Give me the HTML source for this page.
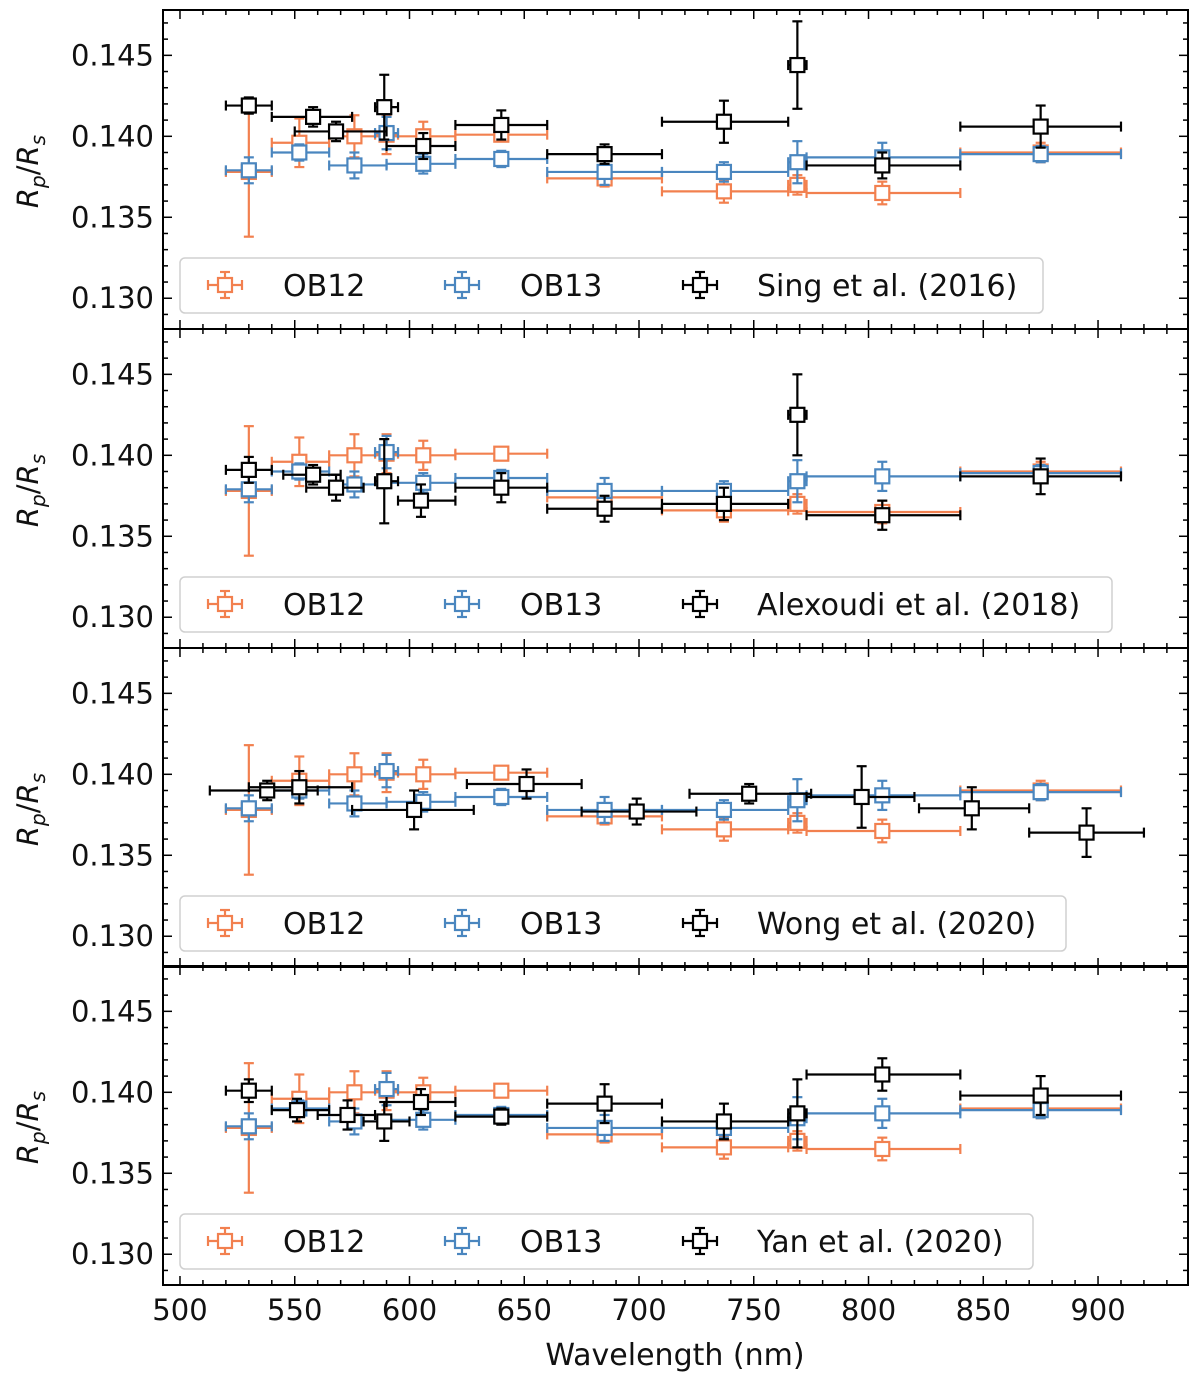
<!DOCTYPE html>
<html><head><meta charset="utf-8">
<style>
body{margin:0;background:#fff;}
svg text{font-family:"DejaVu Sans","Liberation Sans",sans-serif;fill:#111;}
</style></head>
<body>
<svg id="chart" width="1200" height="1380" xmlns="http://www.w3.org/2000/svg"></svg>
<script>
// ---- data ----
const ob12X=[530,552,576,590,606,640,685,737,769,806,875];
const ob12Lo=[520,540,565,585,590,620,660,710,765,773,840];
const ob12Hi=[540,565,590,595,620,660,710,765,773,840,910];
const ob12Y=[0.1378,0.1396,0.1400,0.1401,0.1400,0.1401,0.1374,0.1366,0.1370,0.1365,0.1390];
const ob12E=[0.0040,0.0015,0.0013,0.0012,0.0009,0.0003,0.0005,0.0007,0.0006,0.0007,0.0006];
const ob13X=[530,552,576,590,606,640,685,737,769,806,875];
const ob13Lo=[520,540,565,585,590,620,660,710,765,773,840];
const ob13Hi=[540,565,590,595,620,660,710,765,773,840,910];
const ob13Y=[0.1379,0.1390,0.1382,0.1402,0.1383,0.1386,0.1378,0.1378,0.1384,0.1387,0.1389];
const ob13E=[0.0008,0.0005,0.0008,0.0010,0.0006,0.0005,0.0008,0.0006,0.0013,0.0009,0.0005];
const singX=[530,558,568,589,606,640,685,737,769,806,875];
const singLo=[520,540,550,585,590,620,660,710,765,773,840];
const singHi=[540,575,590,595,620,660,710,765,773,840,910];
const singY=[0.1419,0.1412,0.1403,0.1418,0.1394,0.1407,0.1389,0.1409,0.1444,0.1382,0.1406];
const singE=[0.0005,0.0006,0.0006,0.0020,0.0008,0.0009,0.0006,0.0013,0.0027,0.0008,0.0013];
const alexX=[530,558,568,589,605,640,685,737,769,806,875];
const alexLo=[520,545,555,585,595,620,660,710,765,773,840];
const alexHi=[540,570,580,595,620,660,710,765,773,840,910];
const alexY=[0.1391,0.1388,0.1380,0.1384,0.1372,0.1380,0.1367,0.1370,0.1425,0.1363,0.1387];
const alexE=[0.0008,0.0006,0.0008,0.0026,0.0010,0.0009,0.0008,0.0010,0.0025,0.0009,0.0011];
const wongX=[538,552,602,651,699,748,797,845,895];
const wongLo=[513,530,575,625,675,722,773,822,870];
const wongHi=[560,575,628,675,725,775,820,870,920];
const wongY=[0.1390,0.1392,0.1378,0.1394,0.1377,0.1388,0.1386,0.1379,0.1364];
const wongE=[0.0006,0.0010,0.0012,0.0009,0.0008,0.0006,0.0019,0.0013,0.0015];
const yanX=[530,551,573,589,605,640,685,737,769,806,875];
const yanLo=[520,540,560,580,590,620,660,710,765,773,840];
const yanHi=[540,565,585,600,620,660,710,765,773,840,910];
const yanY=[0.1401,0.1389,0.1386,0.1382,0.1394,0.1385,0.1393,0.1382,0.1387,0.1411,0.1398];
const yanE=[0.0007,0.0007,0.0009,0.0012,0.0008,0.0005,0.0012,0.0011,0.0021,0.0010,0.0012];
const yTicks=[0.130,0.135,0.140,0.145];
const xTicks=[500,550,600,650,700,750,800,850,900];
const refLabels=["Sing et al. (2016)","Alexoudi et al. (2018)","Wong et al. (2020)","Yan et al. (2020)"];
const legendWidths=[863,932,886,853];

const NS="http://www.w3.org/2000/svg";
const svg=document.getElementById('chart');
function el(tag,attrs,parent){const e=document.createElementNS(NS,tag);for(const k in attrs)e.setAttribute(k,attrs[k]);(parent||svg).appendChild(e);return e;}
const L=163,R=1188,XMIN=492.6,XMAX=939.2,YMIN=0.1281,YMAX=0.1478;
const tops=[10,329,648,966],H=319;
const xs=v=>L+(v-XMIN)/(XMAX-XMIN)*(R-L);
const refSets=[[singX,singLo,singHi,singY,singE],[alexX,alexLo,alexHi,alexY,alexE],[wongX,wongLo,wongHi,wongY,wongE],[yanX,yanLo,yanHi,yanY,yanE]];
const ORANGE="#f2804f",BLUE="#4a86bf",BLACK="#000";

function series(g,ys,X,Lo,Hi,Y,E,color,name){
  const sg=el('g',{},g);
  
  
  for(let i=0;i<X.length;i++){
    const cx=xs(X[i]),cy=ys(Y[i]),y1=ys(Y[i]+E[i]),y2=ys(Y[i]-E[i]),x1=xs(Lo[i]),x2=xs(Hi[i]);
    const pg=el('g',{stroke:color,'stroke-width':2.2,fill:'none'},sg);
    
    
    el('line',{x1:x1,x2:x2,y1:cy,y2:cy},pg);
    el('line',{x1:cx,x2:cx,y1:y1,y2:y2},pg);
    el('line',{x1:x1,x2:x1,y1:cy-5,y2:cy+5},pg);
    el('line',{x1:x2,x2:x2,y1:cy-5,y2:cy+5},pg);
    el('line',{x1:cx-5,x2:cx+5,y1:y1,y2:y1},pg);
    el('line',{x1:cx-5,x2:cx+5,y1:y2,y2:y2},pg);
    el('rect',{x:cx-7,y:cy-7,width:14,height:14,fill:'#fff'},pg);
  }
}
function legMarker(g,x,y,color){
  const m=el('g',{stroke:color,'stroke-width':2.2,fill:'none'},g);
  el('line',{x1:x-17,x2:x+17,y1:y,y2:y},m);
  el('line',{x1:x,x2:x,y1:y-13,y2:y+13},m);
  el('line',{x1:x-17,x2:x-17,y1:y-5,y2:y+5},m);
  el('line',{x1:x+17,x2:x+17,y1:y-5,y2:y+5},m);
  el('line',{x1:x-5,x2:x+5,y1:y-13,y2:y-13},m);
  el('line',{x1:x-5,x2:x+5,y1:y+13,y2:y+13},m);
  el('rect',{x:x-7,y:y-7,width:14,height:14,fill:'#fff'},m);
}
tops.forEach((T,p)=>{
  const ys=v=>T+(YMAX-v)/(YMAX-YMIN)*H;
  const g=el('g',{});
  
  
  // ticks
  const tg=el('g',{stroke:'#000','stroke-width':1.5},g);
  
  
  for(let v=500;v<=930;v+=10){const x=xs(v),maj=v%50===0,len=maj?9:5;
    el('line',{x1:x,x2:x,y1:T,y2:T+len},tg);el('line',{x1:x,x2:x,y1:T+H,y2:T+H-len},tg);}
  for(let k=129;k<=147;k++){const v=k/1000,y=ys(v),maj=k%5===0,len=maj?9:5;
    el('line',{x1:L,x2:L+len,y1:y,y2:y},tg);el('line',{x1:R,x2:R-len,y1:y,y2:y},tg);}
  yTicks.forEach(v=>{const t=el('text',{x:L-9,y:ys(v)+10,'text-anchor':'end','font-size':29},g);t.textContent=v.toFixed(3);
    });
  const yl=el('text',{x:0,y:0,'text-anchor':'middle','font-size':29,transform:`translate(38,${T+H/2+2}) rotate(-90)`},g);
  
  yl.innerHTML='<tspan font-style="italic">R</tspan><tspan font-style="italic" font-size="20" dy="7">p</tspan><tspan dy="-7">/</tspan><tspan font-style="italic">R</tspan><tspan font-style="italic" font-size="20" dy="7">s</tspan>';
  series(g,ys,ob12X,ob12Lo,ob12Hi,ob12Y,ob12E,ORANGE,'ob12-series');
  series(g,ys,ob13X,ob13Lo,ob13Hi,ob13Y,ob13E,BLUE,'ob13-series');
  const rs=refSets[p];
  series(g,ys,rs[0],rs[1],rs[2],rs[3],rs[4],BLACK,'reference-series');
  // legend
  const lg=el('g',{},g);
  
  const ly=T+H-44;
  el('rect',{x:180,y:ly-27,width:legendWidths[p],height:55,rx:5,fill:'#fff','fill-opacity':0.85,stroke:'#d0d0d0','stroke-width':1.5},lg);
  [[225,283,ORANGE,'OB12'],[462,520,BLUE,'OB13'],[700,757,BLACK,refLabels[p]]].forEach(e=>{
    legMarker(lg,e[0],ly,e[2]);
    const t=el('text',{x:e[1],y:ly+11,'font-size':30},lg);t.textContent=e[3];
    
  });
  el('rect',{x:L,y:T,width:R-L,height:H,fill:'none',stroke:'#000','stroke-width':2},g);
});
xTicks.forEach(v=>{const t=el('text',{x:xs(v),y:1320,'text-anchor':'middle','font-size':29});t.textContent=v;
  });
const xl=el('text',{x:675,y:1365,'text-anchor':'middle','font-size':30});xl.textContent='Wavelength (nm)';

</script>
</body></html>
